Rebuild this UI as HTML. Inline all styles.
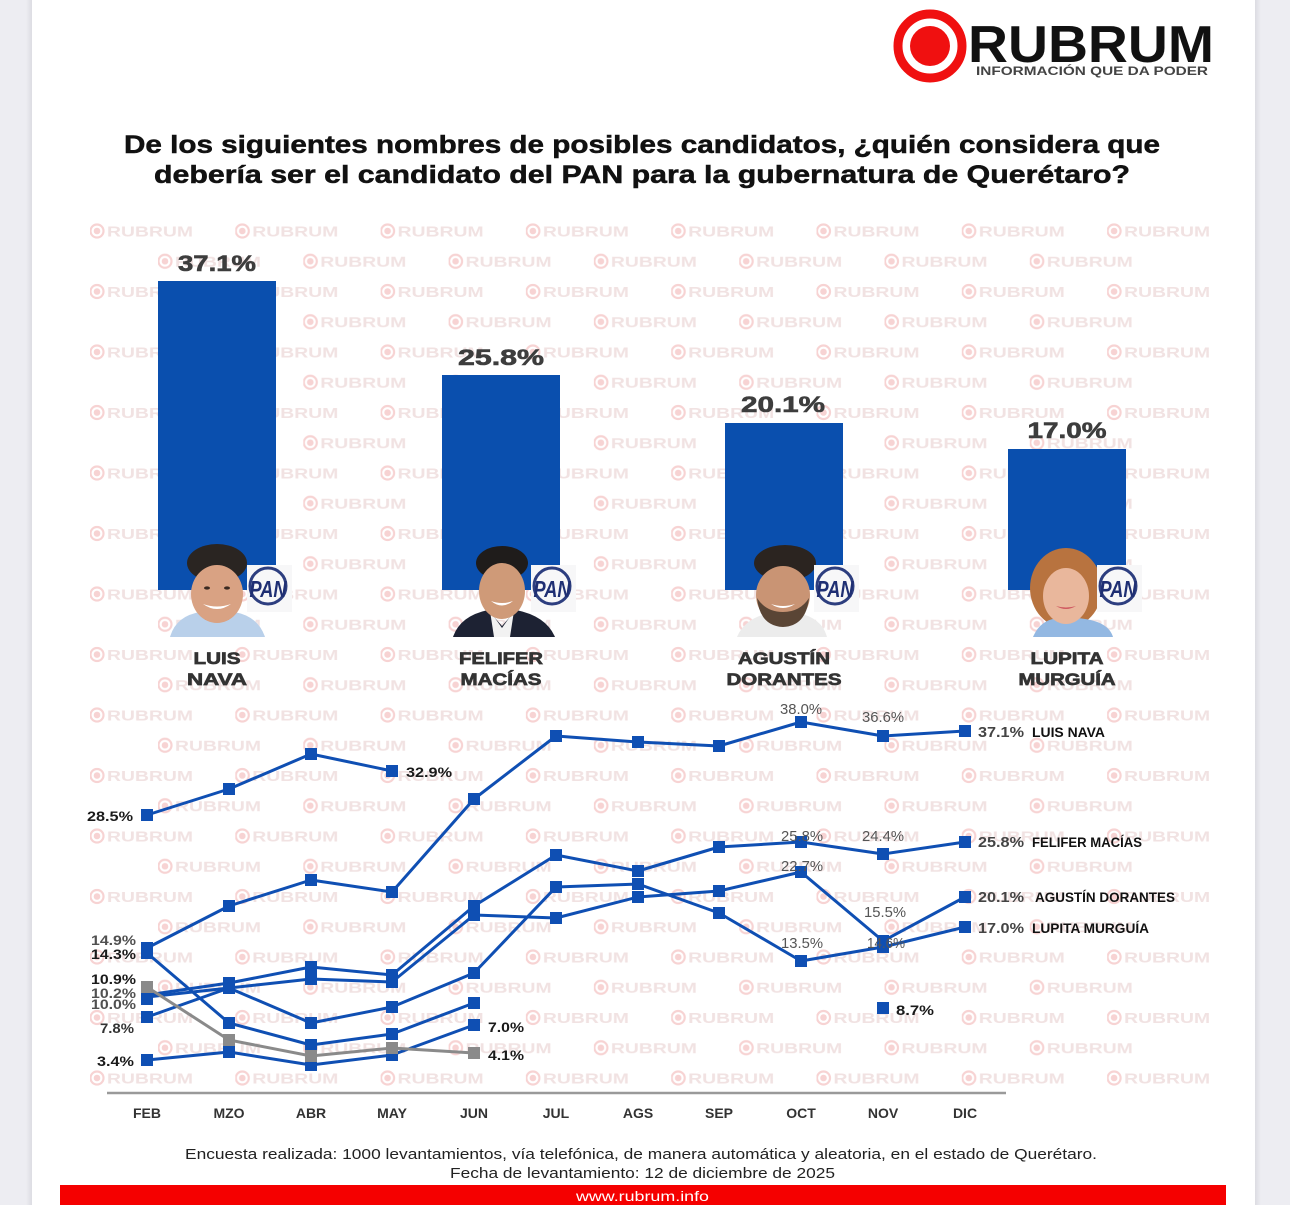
<!DOCTYPE html>
<html><head><meta charset="utf-8"><style>
html,body{margin:0;padding:0;background:#ededf2;}
body{width:1290px;height:1205px;overflow:hidden;}
svg{display:block;}
</style></head><body>
<svg width="1290" height="1205" viewBox="0 0 1290 1205" xmlns="http://www.w3.org/2000/svg" font-family="'Liberation Sans', Arial, sans-serif">
<defs>
<pattern id="wmE" patternUnits="userSpaceOnUse" x="90" y="216" width="145.3" height="60.5">
<circle cx="7" cy="15" r="6.5" fill="none" stroke="#f7d3d3" stroke-width="2.2"/>
<circle cx="7" cy="15" r="3.3" fill="#f7d3d3"/>
<text x="17" y="20.5" font-size="14.5" font-weight="bold" fill="#f1e2e2" textLength="86" lengthAdjust="spacingAndGlyphs">RUBRUM</text>
</pattern>
<pattern id="wmO" patternUnits="userSpaceOnUse" x="158" y="246.25" width="145.3" height="60.5">
<circle cx="7" cy="15" r="6.5" fill="none" stroke="#f7d3d3" stroke-width="2.2"/>
<circle cx="7" cy="15" r="3.3" fill="#f7d3d3"/>
<text x="17" y="20.5" font-size="14.5" font-weight="bold" fill="#f1e2e2" textLength="86" lengthAdjust="spacingAndGlyphs">RUBRUM</text>
</pattern>
<linearGradient id="shL" x1="0" x2="1"><stop offset="0" stop-color="#ededf2"/><stop offset="1" stop-color="#dcdce2"/></linearGradient>
<linearGradient id="shR" x1="0" x2="1"><stop offset="0" stop-color="#dcdce2"/><stop offset="1" stop-color="#ededf2"/></linearGradient>
</defs>

<!-- page -->
<rect x="0" y="0" width="1290" height="1205" fill="#ededf2"/>
<rect x="26" y="0" width="6" height="1205" fill="url(#shL)"/>
<rect x="1255" y="0" width="6" height="1205" fill="url(#shR)"/>
<rect x="32" y="0" width="1223" height="1205" fill="#ffffff"/>

<!-- logo -->
<circle cx="930" cy="46" r="32" fill="none" stroke="#f01010" stroke-width="9"/>
<circle cx="930" cy="46" r="20" fill="#f01010"/>
<text x="968" y="62" font-size="52" font-weight="bold" fill="#111" textLength="246" lengthAdjust="spacingAndGlyphs">RUBRUM</text>
<text x="976" y="75" font-size="11.5" font-weight="bold" fill="#444" textLength="232" lengthAdjust="spacingAndGlyphs">INFORMACIÓN QUE DA PODER</text>

<!-- title -->
<g stroke="#111" stroke-width="0.5">
<text x="124" y="153" font-size="25" font-weight="bold" fill="#111" textLength="1036" lengthAdjust="spacingAndGlyphs">De los siguientes nombres de posibles candidatos, ¿quién considera que</text>
<text x="154" y="183" font-size="25" font-weight="bold" fill="#111" textLength="976" lengthAdjust="spacingAndGlyphs">debería ser el candidato del PAN para la gubernatura de Querétaro?</text>
</g>

<!-- watermarks -->
<rect x="88" y="216" width="1126" height="876" fill="url(#wmE)"/>
<rect x="150" y="240" width="985" height="830" fill="url(#wmO)"/>

<!-- bars -->
<g fill="#0a4fae">
<rect x="158" y="281" width="118" height="309"/>
<rect x="442" y="375" width="118" height="215"/>
<rect x="725" y="423" width="118" height="167"/>
<rect x="1008" y="449" width="118" height="141"/>
</g>
<g font-size="22" font-weight="bold" fill="#3d3d3d" stroke="#3d3d3d" stroke-width="0.6" text-anchor="middle">
<text x="217" y="271" textLength="78" lengthAdjust="spacingAndGlyphs">37.1%</text>
<text x="501" y="365" textLength="86" lengthAdjust="spacingAndGlyphs">25.8%</text>
<text x="783" y="412" textLength="84" lengthAdjust="spacingAndGlyphs">20.1%</text>
<text x="1067" y="438" textLength="79" lengthAdjust="spacingAndGlyphs">17.0%</text>
</g>

<!-- portraits -->
<g>
<path d="M170 637 Q176 616 200 612 L234 612 Q258 616 265 637 Z" fill="#b9d0ea"/>
<rect x="205" y="606" width="24" height="14" fill="#cf9676"/>
<ellipse cx="217" cy="563" rx="30" ry="19" fill="#2a2522"/>
<ellipse cx="217" cy="594" rx="26" ry="29" fill="#d9a283"/>
<path d="M203 604 Q217 614 231 604 Q217 609 203 604Z" fill="#fff"/>
<ellipse cx="207" cy="588" rx="3" ry="1.6" fill="#3a2a22"/>
<ellipse cx="227" cy="588" rx="3" ry="1.6" fill="#3a2a22"/>
</g>
<g>
<path d="M453 637 Q460 616 488 610 L502 626 L516 610 Q546 616 555 637 Z" fill="#1d2233"/>
<path d="M490 611 L502 628 L514 611 L510 637 L494 637Z" fill="#f2f2f2"/>
<rect x="492" y="604" width="20" height="12" fill="#c28a6a"/>
<ellipse cx="502" cy="563" rx="26" ry="17" fill="#1f1c1b"/>
<ellipse cx="502" cy="591" rx="23" ry="28" fill="#cf9a78"/>
<path d="M491 601 Q502 610 513 601 Q502 605 491 601Z" fill="#fff"/>
</g>
<g>
<path d="M737 637 Q745 618 770 613 L798 613 Q822 618 827 637 Z" fill="#ececec"/>
<rect x="772" y="606" width="22" height="12" fill="#b98567"/>
<ellipse cx="785" cy="563" rx="31" ry="18" fill="#2b2420"/>
<ellipse cx="783" cy="595" rx="27" ry="29" fill="#c99474"/>
<path d="M757 598 Q760 626 783 627 Q806 626 809 598 Q800 612 783 612 Q766 612 757 598Z" fill="#5a4535"/>
<path d="M771 604 Q783 612 795 604 Q783 608 771 604Z" fill="#fff"/>
</g>
<g>
<ellipse cx="1066" cy="588" rx="36" ry="40" fill="#b8733f"/>
<path d="M1033 637 Q1040 620 1058 618 L1076 618 Q1108 620 1113 637 Z" fill="#93b8e2"/>
<rect x="1056" y="608" width="20" height="12" fill="#e2ab8f"/>
<ellipse cx="1066" cy="596" rx="23" ry="28" fill="#e9b79c"/>
<path d="M1056 606 Q1066 612 1076 606 Q1066 609 1056 606Z" fill="#d05a60"/>
</g>

<!-- PAN logos -->
<g>
<rect x="247" y="565" width="45" height="47" fill="#f7f7f8"/>
<circle cx="268" cy="586" r="18" fill="none" stroke="#2d3e7f" stroke-width="3"/>
<text x="268" y="597" font-size="23" font-weight="bold" font-style="italic" fill="#1f2f73" text-anchor="middle" textLength="37" lengthAdjust="spacingAndGlyphs">PAN</text>
</g>
<g>
<rect x="531" y="565" width="45" height="47" fill="#f7f7f8"/>
<circle cx="552" cy="586" r="18" fill="none" stroke="#2d3e7f" stroke-width="3"/>
<text x="552" y="597" font-size="23" font-weight="bold" font-style="italic" fill="#1f2f73" text-anchor="middle" textLength="37" lengthAdjust="spacingAndGlyphs">PAN</text>
</g>
<g>
<rect x="814" y="565" width="45" height="47" fill="#f7f7f8"/>
<circle cx="835" cy="586" r="18" fill="none" stroke="#2d3e7f" stroke-width="3"/>
<text x="835" y="597" font-size="23" font-weight="bold" font-style="italic" fill="#1f2f73" text-anchor="middle" textLength="37" lengthAdjust="spacingAndGlyphs">PAN</text>
</g>
<g>
<rect x="1097" y="565" width="45" height="47" fill="#f7f7f8"/>
<circle cx="1118" cy="586" r="18" fill="none" stroke="#2d3e7f" stroke-width="3"/>
<text x="1118" y="597" font-size="23" font-weight="bold" font-style="italic" fill="#1f2f73" text-anchor="middle" textLength="37" lengthAdjust="spacingAndGlyphs">PAN</text>
</g>

<!-- names -->
<g font-size="17" font-weight="bold" fill="#333" stroke="#333" stroke-width="0.7" text-anchor="middle">
<text x="217" y="664" textLength="47" lengthAdjust="spacingAndGlyphs">LUIS</text>
<text x="217" y="685" textLength="60" lengthAdjust="spacingAndGlyphs">NAVA</text>
<text x="501" y="664" textLength="84" lengthAdjust="spacingAndGlyphs">FELIFER</text>
<text x="501" y="685" textLength="81" lengthAdjust="spacingAndGlyphs">MACÍAS</text>
<text x="784" y="664" textLength="92" lengthAdjust="spacingAndGlyphs">AGUSTÍN</text>
<text x="784" y="685" textLength="115" lengthAdjust="spacingAndGlyphs">DORANTES</text>
<text x="1067" y="664" textLength="73" lengthAdjust="spacingAndGlyphs">LUPITA</text>
<text x="1067" y="685" textLength="97" lengthAdjust="spacingAndGlyphs">MURGUÍA</text>
</g>

<!-- line chart -->
<line x1="107" y1="1093" x2="1006" y2="1093" stroke="#9a9a9a" stroke-width="2.5"/>
<g fill="none" stroke="#0f4fb3" stroke-width="3" stroke-linejoin="round">
<polyline points="147,815 229,789 311,754 392,771"/>
<polyline points="147,948 229,906 311,880 392,892 474,799 556,736 638,742 719,746 801,722 883,736 965,731"/>
<polyline points="147,953 229,1023 311,1045 392,1034 474,1003"/>
<polyline points="147,995 229,983 311,967 392,975 474,906 556,855 638,871 719,847 801,842 883,854 965,842"/>
<polyline points="147,1017 229,988 311,979 392,982 474,915 556,918 638,897 719,891 801,872 883,941 965,897"/>
<polyline points="147,997 229,988 311,1023 392,1007 474,973 556,887 638,884 719,913 801,961 883,947 965,927"/>
<polyline points="147,1060 229,1052 311,1065 392,1055 474,1025"/>
</g>
<g fill="#0f4fb3">
<rect x="141" y="809" width="12" height="12"/><rect x="223" y="783" width="12" height="12"/><rect x="305" y="748" width="12" height="12"/><rect x="386" y="765" width="12" height="12"/>
<rect x="141" y="942" width="12" height="12"/><rect x="223" y="900" width="12" height="12"/><rect x="305" y="874" width="12" height="12"/><rect x="386" y="886" width="12" height="12"/><rect x="468" y="793" width="12" height="12"/><rect x="550" y="730" width="12" height="12"/><rect x="632" y="736" width="12" height="12"/><rect x="713" y="740" width="12" height="12"/><rect x="795" y="716" width="12" height="12"/><rect x="877" y="730" width="12" height="12"/><rect x="959" y="725" width="12" height="12"/>
<rect x="141" y="947" width="12" height="12"/><rect x="223" y="1017" width="12" height="12"/><rect x="305" y="1039" width="12" height="12"/><rect x="386" y="1028" width="12" height="12"/><rect x="468" y="997" width="12" height="12"/>
<rect x="141" y="989" width="12" height="12"/><rect x="223" y="977" width="12" height="12"/><rect x="305" y="961" width="12" height="12"/><rect x="386" y="969" width="12" height="12"/><rect x="468" y="900" width="12" height="12"/><rect x="550" y="849" width="12" height="12"/><rect x="632" y="865" width="12" height="12"/><rect x="713" y="841" width="12" height="12"/><rect x="795" y="836" width="12" height="12"/><rect x="877" y="848" width="12" height="12"/><rect x="959" y="836" width="12" height="12"/>
<rect x="141" y="1011" width="12" height="12"/><rect x="223" y="982" width="12" height="12"/><rect x="305" y="973" width="12" height="12"/><rect x="386" y="976" width="12" height="12"/><rect x="468" y="909" width="12" height="12"/><rect x="550" y="912" width="12" height="12"/><rect x="632" y="891" width="12" height="12"/><rect x="713" y="885" width="12" height="12"/><rect x="795" y="866" width="12" height="12"/><rect x="877" y="935" width="12" height="12"/><rect x="959" y="891" width="12" height="12"/>
<rect x="141" y="993" width="12" height="12"/><rect x="305" y="1017" width="12" height="12"/><rect x="386" y="1001" width="12" height="12"/><rect x="468" y="967" width="12" height="12"/><rect x="550" y="881" width="12" height="12"/><rect x="632" y="878" width="12" height="12"/><rect x="713" y="907" width="12" height="12"/><rect x="795" y="955" width="12" height="12"/><rect x="877" y="941" width="12" height="12"/><rect x="959" y="921" width="12" height="12"/>
<rect x="141" y="1054" width="12" height="12"/><rect x="223" y="1046" width="12" height="12"/><rect x="305" y="1059" width="12" height="12"/><rect x="386" y="1049" width="12" height="12"/><rect x="468" y="1019" width="12" height="12"/>
<rect x="877" y="1002" width="12" height="12"/>
</g>
<polyline points="147,987 229,1040 311,1056 392,1048 474,1053" fill="none" stroke="#8a8a8a" stroke-width="3"/>
<g fill="#8a8a8a">
<rect x="141" y="981" width="12" height="12"/><rect x="223" y="1034" width="12" height="12"/><rect x="305" y="1050" width="12" height="12"/><rect x="386" y="1042" width="12" height="12"/><rect x="468" y="1047" width="12" height="12"/>
</g>

<!-- chart labels -->
<g font-size="14" font-weight="bold" fill="#1a1a1a">
<text x="133" y="821" text-anchor="end" textLength="46" lengthAdjust="spacingAndGlyphs">28.5%</text>
<text x="406" y="777" textLength="46" lengthAdjust="spacingAndGlyphs">32.9%</text>
<text x="136" y="945" text-anchor="end" textLength="45" lengthAdjust="spacingAndGlyphs" fill="#505050">14.9%</text>
<text x="136" y="959" text-anchor="end" textLength="45" lengthAdjust="spacingAndGlyphs">14.3%</text>
<text x="136" y="984" text-anchor="end" textLength="45" lengthAdjust="spacingAndGlyphs">10.9%</text>
<text x="136" y="998" text-anchor="end" textLength="45" lengthAdjust="spacingAndGlyphs" fill="#505050">10.2%</text>
<text x="136" y="1009" text-anchor="end" textLength="45" lengthAdjust="spacingAndGlyphs" fill="#505050">10.0%</text>
<text x="134" y="1033" text-anchor="end" textLength="34" lengthAdjust="spacingAndGlyphs" fill="#333">7.8%</text>
<text x="134" y="1066" text-anchor="end" textLength="37" lengthAdjust="spacingAndGlyphs">3.4%</text>
<text x="488" y="1032" textLength="36" lengthAdjust="spacingAndGlyphs">7.0%</text>
<text x="488" y="1060" textLength="36" lengthAdjust="spacingAndGlyphs">4.1%</text>
<text x="896" y="1015" textLength="38" lengthAdjust="spacingAndGlyphs">8.7%</text>
</g>
<g font-size="15" font-weight="bold" fill="#444">
<text x="978" y="737" textLength="46" lengthAdjust="spacingAndGlyphs">37.1%</text>
<text x="978" y="847" textLength="46" lengthAdjust="spacingAndGlyphs">25.8%</text>
<text x="978" y="902" textLength="46" lengthAdjust="spacingAndGlyphs">20.1%</text>
<text x="978" y="933" textLength="46" lengthAdjust="spacingAndGlyphs">17.0%</text>
</g>
<g font-size="14" font-weight="bold" fill="#111">
<text x="1032" y="737" textLength="73" lengthAdjust="spacingAndGlyphs">LUIS NAVA</text>
<text x="1032" y="847" textLength="110" lengthAdjust="spacingAndGlyphs">FELIFER MACÍAS</text>
<text x="1035" y="902" textLength="140" lengthAdjust="spacingAndGlyphs">AGUSTÍN DORANTES</text>
<text x="1032" y="933" textLength="117" lengthAdjust="spacingAndGlyphs">LUPITA MURGUÍA</text>
</g>
<g font-size="15" fill="#555" text-anchor="middle">
<text x="801" y="714" textLength="42" lengthAdjust="spacingAndGlyphs">38.0%</text>
<text x="883" y="722" textLength="42" lengthAdjust="spacingAndGlyphs">36.6%</text>
<text x="802" y="841" textLength="42" lengthAdjust="spacingAndGlyphs">25.8%</text>
<text x="883" y="841" textLength="42" lengthAdjust="spacingAndGlyphs">24.4%</text>
<text x="802" y="871" textLength="42" lengthAdjust="spacingAndGlyphs">22.7%</text>
<text x="885" y="917" textLength="42" lengthAdjust="spacingAndGlyphs">15.5%</text>
<text x="802" y="948" textLength="42" lengthAdjust="spacingAndGlyphs">13.5%</text>
<text x="886" y="948" textLength="38" lengthAdjust="spacingAndGlyphs">14.6%</text>
</g>

<!-- months -->
<g font-size="14" font-weight="bold" fill="#333" text-anchor="middle">
<text x="147" y="1118">FEB</text>
<text x="229" y="1118">MZO</text>
<text x="311" y="1118">ABR</text>
<text x="392" y="1118">MAY</text>
<text x="474" y="1118">JUN</text>
<text x="556" y="1118">JUL</text>
<text x="638" y="1118">AGS</text>
<text x="719" y="1118">SEP</text>
<text x="801" y="1118">OCT</text>
<text x="883" y="1118">NOV</text>
<text x="965" y="1118">DIC</text>
</g>

<!-- footer -->
<text x="185" y="1159" font-size="15" fill="#222" textLength="912" lengthAdjust="spacingAndGlyphs">Encuesta realizada: 1000 levantamientos, vía telefónica, de manera automática y aleatoria, en el estado de Querétaro.</text>
<text x="450" y="1178" font-size="15" fill="#222" textLength="385" lengthAdjust="spacingAndGlyphs">Fecha de levantamiento: 12 de diciembre de 2025</text>
<rect x="60" y="1185" width="1166" height="20" fill="#f50000"/>
<text x="576" y="1201" font-size="14" fill="#ffffff" textLength="133" lengthAdjust="spacingAndGlyphs">www.rubrum.info</text>
</svg>
</body></html>
